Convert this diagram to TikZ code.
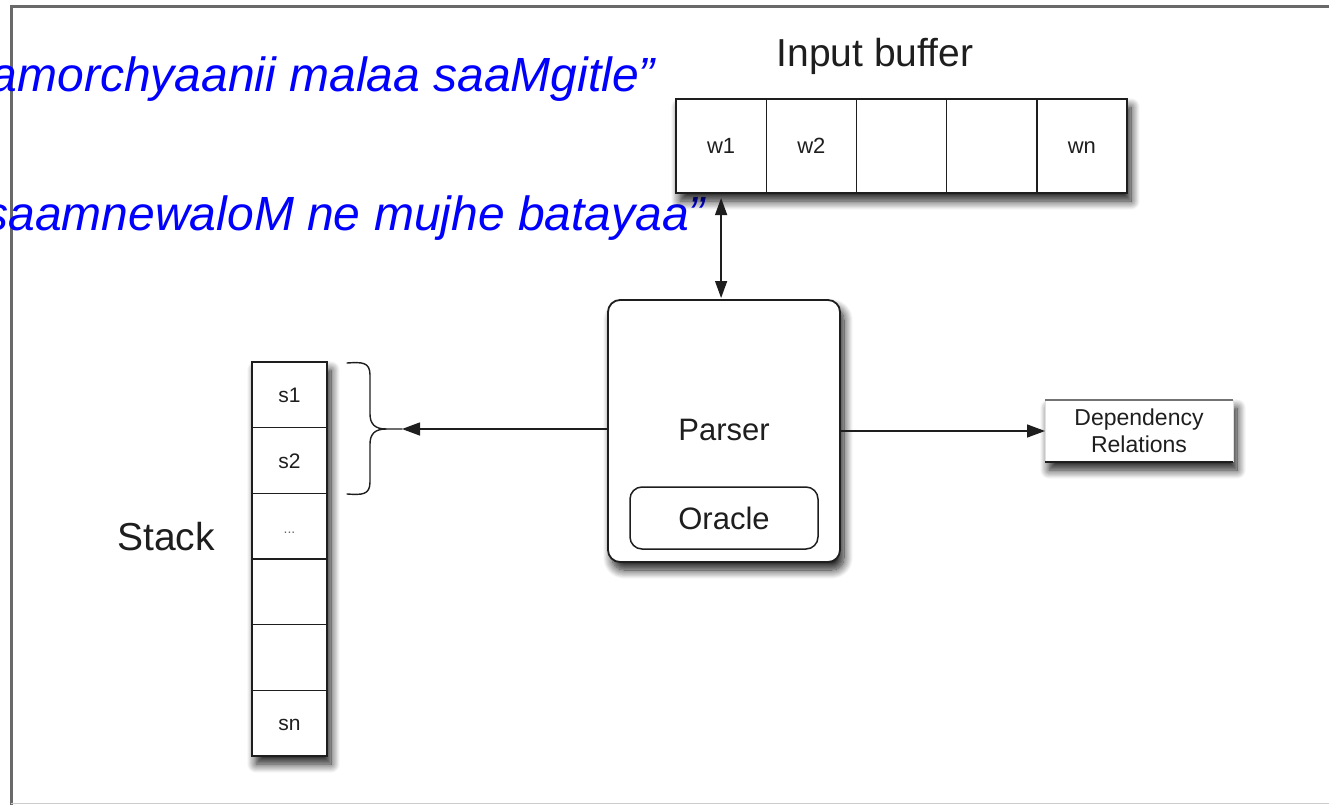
\documentclass[tikz,border=0pt]{standalone}
\usepackage{fontspec}
\setmainfont{Liberation Sans}
\usetikzlibrary{arrows.meta,shadows.blur,calc}
\definecolor{quoteblue}{RGB}{0,0,255}
\definecolor{framegray}{RGB}{105,105,105}
\definecolor{ink}{RGB}{30,30,30}
\begin{document}
\begin{tikzpicture}[x=1pt,y=-1pt,
  every node/.style={inner sep=0pt, outer sep=0pt, text=ink},
  soft shadow/.style={blur shadow={shadow xshift=4pt, shadow yshift=-8pt,
      shadow blur radius=9pt, shadow blur steps=12, shadow opacity=90}},
  outline/.style={draw=ink, line width=1.8pt, fill=white, soft shadow},
  bufcell/.style={draw=ink, line width=1.4pt, minimum width=90.2pt,
      minimum height=94pt, font=\fontsize{22}{26}\selectfont,
      text height=15pt, text depth=0pt},
  stackcell/.style={draw=ink, line width=1.4pt, minimum width=75pt,
      minimum height=65.67pt, font=\fontsize{21}{25}\selectfont,
      text height=15pt, text depth=0pt},
  roundbox/.style={draw=ink, line width=1.8pt, fill=white, rounded corners=12pt},
  conn/.style={draw=ink, line width=1.4pt},
  tip/.style={-{Triangle[length=18pt,width=13pt]}},
  quote/.style={font=\fontsize{48}{56}\selectfont\itshape, text=quoteblue},
  title/.style={font=\fontsize{39}{46}\selectfont}
]
\useasboundingbox (0,0) rectangle (1329,805);

% outer frame
\draw[framegray, line width=3pt] (11,6.5) -- (1329,6.5);
\draw[framegray, line width=3pt] (11,5) -- (11,805);
\draw[black!20, line width=1.5pt] (11,803.5) -- (1329,803.5);

% quoted sentences
\node[quote, anchor=base east] (q1) at (655,92) {amorchyaanii malaa saaMgitle”};
\node[quote, anchor=base east] (q2) at (705,230) {saamnewaloM ne mujhe batayaa”};

% input buffer
\node[title, anchor=base] (buftitle) at (875,67) {Input buffer};
\node[outline, minimum width=451pt, minimum height=94pt] (buffer) at (901.5,146) {};
\node[bufcell] (w1) at (721.1,146) {w1};
\node[bufcell] (w2) at (811.3,146) {w2};
\node[bufcell] (w3) at (901.5,146) {};
\node[bufcell] (w4) at (991.7,146) {};
\node[bufcell] (w5) at (1081.9,146) {wn};

% stack
\node[title, anchor=base] (stacktitle) at (166,550) {Stack};
\node[outline, minimum width=75pt, minimum height=394pt] (stack) at (289.5,559) {};
\node[stackcell] (s1) at (289.5,394.8) {s1};
\node[stackcell] (s2) at (289.5,460.5) {s2};
\node[stackcell, text=black!60] (s3) at (289.5,526.2) {\fontsize{14}{16}\selectfont...};
\node[stackcell] (s4) at (289.5,591.8) {};
\node[stackcell] (s5) at (289.5,657.5) {};
\node[stackcell] (s6) at (289.5,723.2) {sn};

% parser with its oracle
\node[roundbox, soft shadow, minimum width=232pt, minimum height=262pt,
      font=\fontsize{31}{36}\selectfont] (parser) at (724,431) {\raisebox{3pt}{Parser}};
\node[roundbox, line width=1.5pt, minimum width=188pt, minimum height=62pt,
      font=\fontsize{31}{36}\selectfont] (oracle) at (724,518) {Oracle};

% dependency relations
\node[fill=white, soft shadow, minimum width=188pt, minimum height=62pt,
      align=center, font=\fontsize{23}{27}\selectfont] (dep) at (1139,431)
      {Dependency\\Relations};
\draw[black!12, line width=0.8pt] (dep.north west) -- (dep.south west)
      (dep.north east) -- (dep.south east);
\draw[black!55, line width=2pt] (dep.north west) -- (dep.north east);
\draw[ink, line width=1.8pt] (dep.south west) -- (dep.south east);

% brace grouping the two top stack cells
\coordinate (bracetip) at (402,429);
\draw[conn, line cap=round] (347,363) .. controls (362,362) and (370,362) .. (370,375)
   -- (370,414) .. controls (370,424) and (375,429) .. (386,429) -- (bracetip);
\draw[conn, line cap=round] (347,494) .. controls (362,495) and (370,495) .. (370,482)
   -- (370,444) .. controls (370,434) and (375,429) .. (386,429);

% connectors
\draw[conn, tip] (bracetip -| parser.west) -- (bracetip);
\draw[conn, tip] (parser.east |- dep.west) -- (dep.west);
\draw[conn, {Triangle[length=17pt,width=12pt]}-{Triangle[length=17pt,width=12pt]},
      shorten <=5pt, shorten >=2pt] (w1.south) -- (w1.south |- parser.north);
\end{tikzpicture}
\end{document}
